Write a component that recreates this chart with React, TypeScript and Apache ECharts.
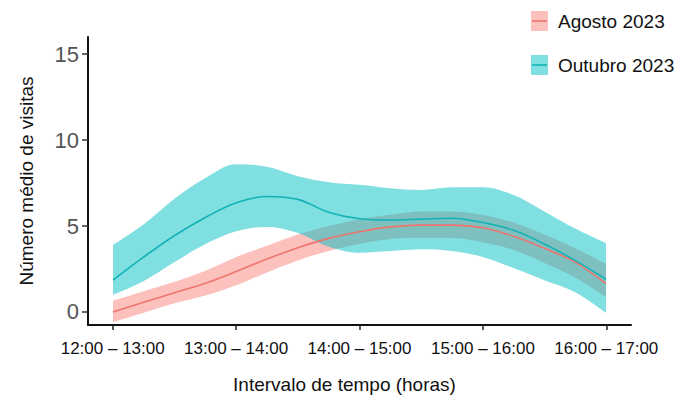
import React, { useEffect, useRef } from "react";
import * as echarts from "echarts";

const xPositions = ["0", "0.25", "0.5", "0.75", "1", "1.25", "1.5", "1.75", "2", "2.25", "2.5", "2.75", "3", "3.25", "3.5", "3.75", "4"];
const xTickValues = [0, 1, 2, 3, 4];
const xTickLabels = ["12:00 – 13:00", "13:00 – 14:00", "14:00 – 15:00", "15:00 – 16:00", "16:00 – 17:00"];
const yTickValues = [0, 5, 10, 15];

const seriesNames = ["Agosto 2023", "Outubro 2023"];

const agostoMean = [0.0, 0.56, 1.12, 1.67, 2.35, 3.08, 3.74, 4.28, 4.67, 4.95, 5.05, 5.05, 4.9, 4.4, 3.7, 2.9, 1.65];
const agostoLow = [-0.6, -0.05, 0.5, 0.95, 1.55, 2.3, 3.0, 3.55, 3.95, 4.25, 4.3, 4.3, 4.05, 3.6, 2.85, 2.0, 0.85];
const agostoHigh = [0.65, 1.2, 1.75, 2.4, 3.2, 3.85, 4.5, 5.0, 5.4, 5.65, 5.85, 5.85, 5.65, 5.2, 4.5, 3.7, 2.8];

const outubroMean = [1.85, 3.2, 4.45, 5.5, 6.35, 6.72, 6.55, 5.8, 5.42, 5.35, 5.4, 5.45, 5.2, 4.75, 3.95, 3.0, 1.9];
const outubroLow = [1.0, 1.8, 2.9, 3.95, 4.7, 4.95, 4.6, 3.8, 3.45, 3.55, 3.65, 3.55, 3.2, 2.55, 1.85, 1.15, -0.05];
const outubroHigh = [3.9, 5.1, 6.6, 7.8, 8.6, 8.45, 7.9, 7.55, 7.4, 7.2, 7.1, 7.25, 7.25, 6.8, 5.85, 4.85, 4.0];

const PINK_LINE = "#EE746C";
const PINK_FILL = "rgba(248,118,109,0.45)";
const CYAN_LINE = "#12B3B6";
const CYAN_FILL = "rgba(0,191,196,0.5)";
const FONT = "Liberation Sans, Arial, sans-serif";

const Y_MIN = -0.76;
const Y_MAX = 16;

const diff = (hi: number[], lo: number[]) => hi.map((h, i) => +(h - lo[i]).toFixed(3));

function bandSeries(stack: string, lo: number[], hi: number[], fill: string) {
  return [
    {
      type: "line",
      xAxisIndex: 1,
      yAxisIndex: 1,
      stack,
      stackStrategy: "all",
      data: lo,
      smooth: 0.35,
      symbol: "none",
      lineStyle: { opacity: 0, width: 0 },
      silent: true,
    },
    {
      type: "line",
      xAxisIndex: 1,
      yAxisIndex: 1,
      stack,
      stackStrategy: "all",
      data: diff(hi, lo),
      smooth: 0.35,
      symbol: "none",
      lineStyle: { opacity: 0, width: 0 },
      areaStyle: { color: fill, opacity: 1 },
      silent: true,
    },
  ];
}

function lineSeries(name: string, ys: number[], color: string) {
  return {
    type: "line",
    name,
    xAxisIndex: 1,
    yAxisIndex: 1,
    data: ys,
    smooth: 0.35,
    symbol: "none",
    lineStyle: { color, width: 1.6 },
  };
}

export default function App() {
  const ref = useRef<HTMLDivElement>(null);
  useEffect(() => {
    if (!ref.current) return;
    const chart = echarts.init(ref.current, undefined, { renderer: "svg" });
    const option: any = {
      animation: false,
      backgroundColor: "#ffffff",
      grid: [
        { left: 88, right: 55, top: 37, bottom: 81, containLabel: false, outerBoundsMode: "none" },
        { left: 113, right: 80, top: 37, bottom: 81, containLabel: false, outerBoundsMode: "none" },
      ],
      xAxis: [
        {
          type: "value",
          gridIndex: 0,
          min: -0.2,
          max: 4.2,
          splitLine: { show: false },
          axisLine: { show: true, onZero: false, lineStyle: { color: "#111", width: 2 } },
          axisTick: { show: true, customValues: xTickValues, length: 5, lineStyle: { color: "#222", width: 1.5 } },
          axisLabel: {
            customValues: xTickValues,
            formatter: (v: number) => xTickLabels[Math.round(v)] ?? "",
            color: "#111",
            fontSize: 17,
            fontFamily: FONT,
            margin: 15,
          },
          name: "Intervalo de tempo (horas)",
          nameLocation: "middle",
          nameGap: 50,
          nameTextStyle: { color: "#111", fontSize: 19, fontFamily: FONT, padding: [0, 30, 0, 0] },
        },
        {
          type: "category",
          gridIndex: 1,
          data: xPositions,
          boundaryGap: false,
          show: false,
        },
      ],
      yAxis: [
        {
          type: "value",
          gridIndex: 0,
          min: Y_MIN,
          max: Y_MAX,
          splitLine: { show: false },
          axisLine: { show: true, onZero: false, lineStyle: { color: "#111", width: 2 } },
          axisTick: { show: true, customValues: yTickValues, length: 6, lineStyle: { color: "#333", width: 1.5 } },
          axisLabel: {
            customValues: yTickValues,
            color: "#555",
            fontSize: 22,
            fontFamily: FONT,
            margin: 9,
          },
          name: "Número médio de visitas",
          nameLocation: "middle",
          nameGap: 52,
          nameTextStyle: { color: "#111", fontSize: 19, fontFamily: FONT },
        },
        {
          type: "value",
          gridIndex: 1,
          min: Y_MIN,
          max: Y_MAX,
          show: false,
          splitLine: { show: false },
        },
      ],
      series: [
        ...bandSeries("agosto", agostoLow, agostoHigh, PINK_FILL),
        lineSeries(seriesNames[0], agostoMean, PINK_LINE),
        ...bandSeries("outubro", outubroLow, outubroHigh, CYAN_FILL),
        lineSeries(seriesNames[1], outubroMean, CYAN_LINE),
      ],
      graphic: [
        { type: "rect", shape: { x: 531, y: 11, width: 17, height: 20 }, style: { fill: PINK_FILL } },
        { type: "line", shape: { x1: 532, y1: 21, x2: 547, y2: 21 }, style: { stroke: PINK_LINE, lineWidth: 1.6 } },
        {
          type: "text",
          x: 558,
          y: 21,
          style: { text: seriesNames[0], fill: "#111", fontSize: 19, fontFamily: FONT, verticalAlign: "middle" },
        },
        { type: "rect", shape: { x: 531, y: 55, width: 17, height: 20 }, style: { fill: CYAN_FILL } },
        { type: "line", shape: { x1: 532, y1: 65, x2: 547, y2: 65 }, style: { stroke: CYAN_LINE, lineWidth: 1.6 } },
        {
          type: "text",
          x: 558,
          y: 65,
          style: { text: seriesNames[1], fill: "#111", fontSize: 19, fontFamily: FONT, verticalAlign: "middle" },
        },
      ],
    };
    chart.setOption(option);
    return () => chart.dispose();
  }, []);
  return <div ref={ref} style={{ position: "fixed", left: 0, top: 0, width: 686, height: 406 }} />;
}
